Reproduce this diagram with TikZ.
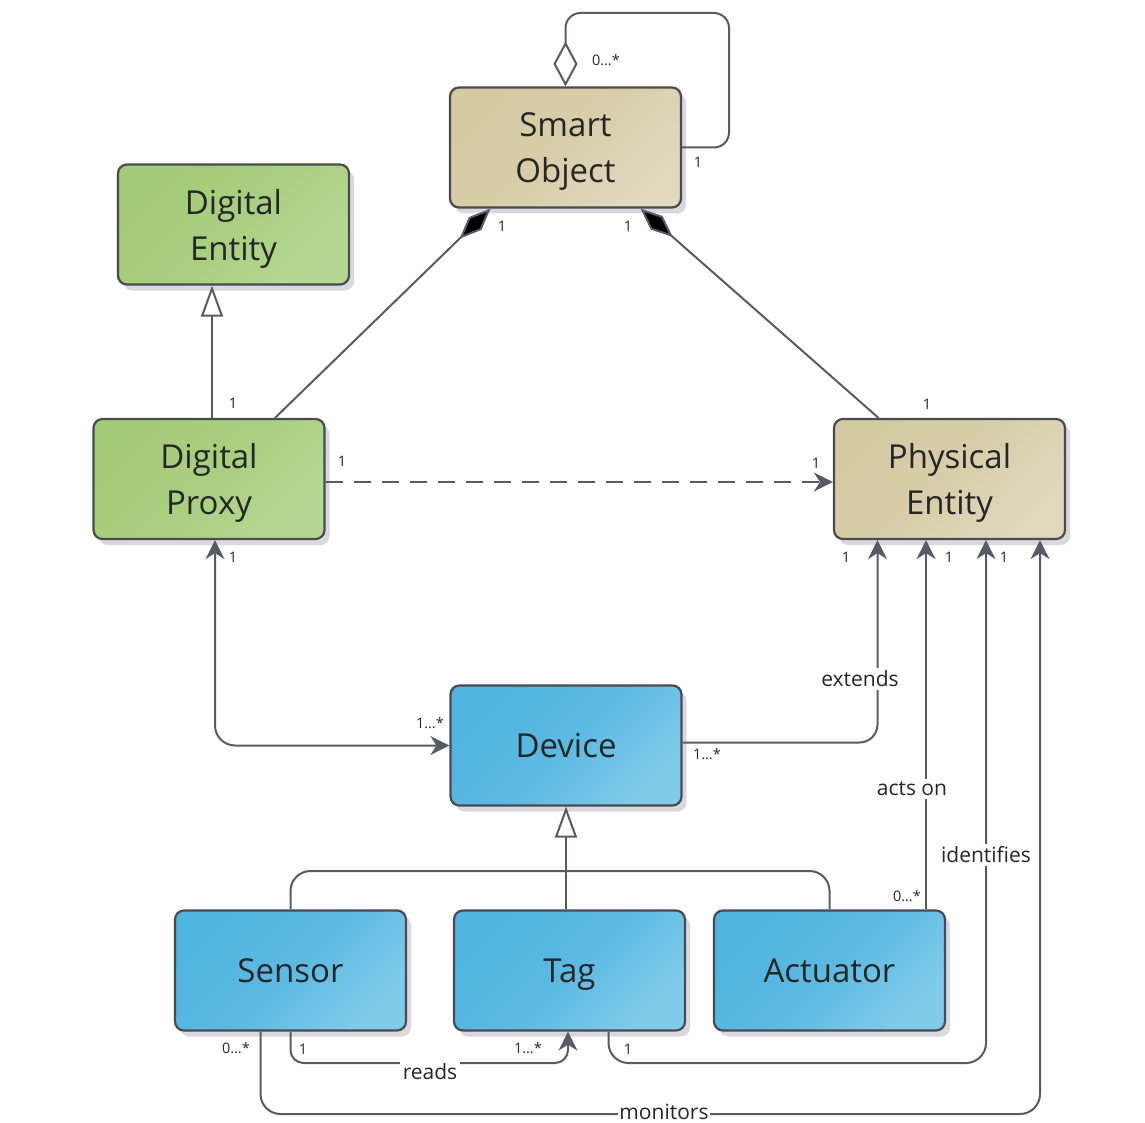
\documentclass[tikz,border=0pt]{standalone}
\usepackage{fontspec}
\setmainfont{Open Sans}
\usetikzlibrary{arrows.meta,shadows}
\definecolor{linec}{HTML}{5A5A66}
\definecolor{edgec}{HTML}{4A4A50}
\definecolor{txtc}{HTML}{262626}
\definecolor{tanA}{HTML}{D4CAA2}
\definecolor{tanB}{HTML}{E0D9BE}
\definecolor{grnA}{HTML}{A4CB79}
\definecolor{grnB}{HTML}{B6D793}
\definecolor{bluA}{HTML}{4FB4E0}
\definecolor{bluB}{HTML}{80CBEA}
\definecolor{shadowc}{HTML}{D8D8DE}
\begin{document}
\begin{tikzpicture}[x=1pt,y=-1pt,
  cls/.style={rectangle, rounded corners=9pt, draw=edgec, line width=2.2pt,
    minimum width=231pt, minimum height=120pt, align=center, text=txtc,
    font=\fontsize{33}{46}\selectfont,
    drop shadow={shadow xshift=5pt, shadow yshift=-6pt, fill=shadowc, opacity=1, draw=none}},
  twoline/.style={text depth=0pt},
  oneline/.style={text height=27pt, text depth=3pt},
  tanbox/.style={cls, top color=tanA, bottom color=tanB, middle color=tanA!75!tanB, shading angle=45},
  grnbox/.style={cls, top color=grnA, bottom color=grnB, middle color=grnA!75!grnB, shading angle=45},
  blubox/.style={cls, top color=bluA, bottom color=bluB, middle color=bluA!75!bluB, shading angle=45},
  assoc/.style={draw=linec, line width=2pt},
  arr/.style={-{Stealth[length=19pt,width=19pt,inset=6pt]}},
  gentip/.style={-{Triangle[open,fill=white,length=31pt,width=22pt]}},
  mult/.style={font=\fontsize{14.5}{16}\selectfont, text=txtc, inner sep=0pt},
  rel/.style={font=\fontsize{21}{24}\selectfont, text=txtc, fill=white, inner sep=3pt}
]
\useasboundingbox (0,0) rectangle (1145,1123);

% classes
\node[tanbox, twoline] (SO)  at (565.5,147.5) {Smart\\Object};
\node[grnbox, twoline] (DE)  at (233.5,224.5) {Digital\\Entity};
\node[grnbox, twoline] (DP)  at (209,479)     {Digital\\Proxy};
\node[tanbox, twoline] (PE)  at (949.5,479)   {Physical\\Entity};
\node[blubox, oneline] (Dev) at (566,745.5)   {Device};
\node[blubox, oneline] (Sen) at (290.5,970.5) {Sensor};
\node[blubox, oneline] (Tag) at (569.5,970.5) {Tag};
\node[blubox, oneline] (Act) at (829.5,970.5) {Actuator};

% ports and routing points
\coordinate (loopc) at (729,13);
\coordinate (soL) at ([xshift=-75pt]SO.south);
\coordinate (soR) at ([xshift=75pt]SO.south);
\coordinate (dpT) at ([xshift=66pt]DP.north);
\coordinate (peT) at ([xshift=-71pt]PE.north);
\coordinate (dp0) at ([xshift=3pt]DP.north);
\coordinate (dpE) at ([yshift=-3pt]DP.east);
\coordinate (dp1) at ([xshift=6pt]DP.south);
\coordinate (devE) at ([yshift=3pt]Dev.east);
\coordinate (pe1) at ([xshift=-72pt]PE.south);
\coordinate (pe2) at ([xshift=-23.5pt]PE.south);
\coordinate (pe3) at ([xshift=36.5pt]PE.south);
\coordinate (pe4) at ([xshift=90.5pt]PE.south);
\coordinate (act1) at ([xshift=96.5pt]Act.north);
\coordinate (tag1) at ([xshift=39pt]Tag.south);
\coordinate (tagIn) at ([xshift=-1.5pt]Tag.south);
\coordinate (sen1) at ([xshift=-30pt]Sen.south);
\coordinate (sen2) at (Sen.south);
\coordinate (busc) at (566,871);
\coordinate (rowA) at (0,1063);
\coordinate (rowB) at (0,1114);

% self aggregation
\draw[assoc, {Diamond[open,fill=white,length=45pt,width=24pt]}-, rounded corners=15pt]
  (SO.north) |- (loopc) |- (SO.east);
% compositions
\draw[assoc, {Diamond[length=43pt,width=18pt,fill=black]}-] (soL) -- (dpT);
\draw[assoc, {Diamond[length=43pt,width=18pt,fill=black]}-] (soR) -- (peT);
% generalisation Digital Proxy -> Digital Entity
\draw[assoc, gentip] (dp0) -- (dp0 |- DE.south);
% dashed Digital Proxy -> Physical Entity
\draw[assoc, arr, dash pattern=on 17pt off 11pt] (dpE) -- (dpE -| PE.west);
% Digital Proxy <-> Device
\draw[assoc, {Stealth[length=19pt,width=19pt,inset=6pt]}-{Stealth[length=19pt,width=19pt,inset=6pt]}, rounded corners=20pt]
  (dp1) |- (Dev.west);
% extends
\draw[assoc, arr, rounded corners=18pt] (devE) -| (pe1);
% acts on
\draw[assoc, arr] (act1) -- (pe2);
% identifies
\draw[assoc, arr, rounded corners=20pt] (tag1) |- (pe3 |- rowA) -- (pe3);
% monitors
\draw[assoc, arr, rounded corners=20pt] (sen1) |- (pe4 |- rowB) -- (pe4);
% reads
\draw[assoc, arr, rounded corners=13pt] (sen2) |- (tagIn |- rowA) -- (tagIn);
% generalisation tree to Device
\draw[assoc, rounded corners=20pt] (Sen.north) |- (busc) -| (Act.north);
\draw[assoc, gentip] (Tag.north -| Dev.south) -- (Dev.south);

% relation labels
\node[rel] (lext) at (860,679) {extends};
\node[rel] (lact) at (912,789) {acts on};
\node[rel] (lide) at (986,855) {identifies};
\node[rel] (lrea) at (430,1072) {reads};
\node[rel, inner ysep=0pt, inner xsep=1pt] (lmon) at (664,1112) {monitors};

% multiplicities
\node[mult] (m1)  at (606,60)   {0…*};
\node[mult] (m2)  at (698,162)  {1};
\node[mult] (m3)  at (502,226)  {1};
\node[mult] (m4)  at (628,226)  {1};
\node[mult] (m5)  at (233,403)  {1};
\node[mult] (m6)  at (927,404)  {1};
\node[mult] (m7)  at (342,461)  {1};
\node[mult] (m8)  at (816,463)  {1};
\node[mult] (m9)  at (233,557)  {1};
\node[mult] (m10) at (846,557)  {1};
\node[mult] (m11) at (949,557)  {1};
\node[mult] (m12) at (1004,557) {1};
\node[mult] (m13) at (430,723)  {1…*};
\node[mult] (m14) at (707,754)  {1…*};
\node[mult] (m15) at (907,896)  {0…*};
\node[mult] (m16) at (236,1048) {0…*};
\node[mult] (m17) at (303,1049) {1};
\node[mult] (m18) at (528,1048) {1…*};
\node[mult] (m19) at (628,1049) {1};
\end{tikzpicture}
\end{document}
